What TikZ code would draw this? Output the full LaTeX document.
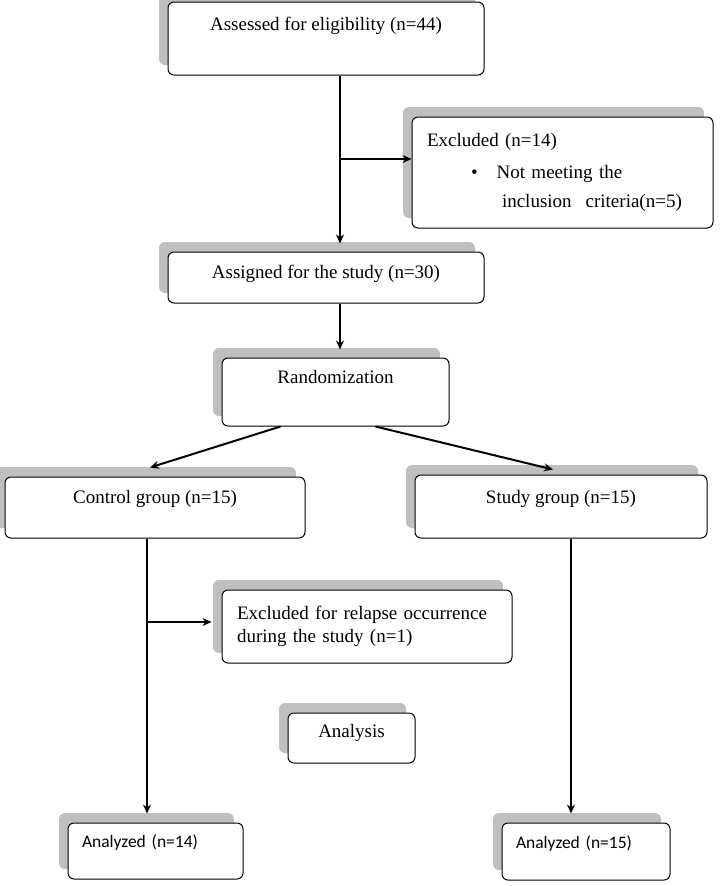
\documentclass[tikz,border=0pt]{standalone}
\usepackage{fontspec}
\setmainfont{Liberation Serif}
\newfontfamily\calibfont{Carlito}
\usepackage{tikz}
\usetikzlibrary{arrows.meta,positioning,calc,shadows}

\begin{document}
\begin{tikzpicture}[
  x=1pt, y=-1pt,
  flowbox/.style={draw, line width=1pt, rounded corners=6pt, fill=white, inner sep=0pt,
    drop shadow={shadow xshift=-9pt, shadow yshift=10pt, fill=gray!50, opacity=1},
    font=\fontsize{19}{23}\selectfont, text height=13pt},
  lift/.style={text depth=#1},
  notebox/.style={flowbox, align=left, inner xsep=15pt},
  resbox/.style={flowbox, align=left, inner xsep=14pt, font=\calibfont\fontsize{17.5}{21}\selectfont},
  link/.style={line width=2pt, -{Stealth[length=9pt,width=8pt]}},
]
\useasboundingbox (0,0) rectangle (720,886);

% --- Enrolment ---
\node[flowbox, minimum width=316pt, minimum height=73pt, lift=29pt] (assess) at (326,38.5) {Assessed for eligibility (n=44)};
\node[notebox, minimum width=301pt, minimum height=111pt, text width=271pt] (excl) at (562.5,172.5)
  {Excluded (n=14)\\[9pt]
   \hspace*{44pt}\textbullet\hspace{19pt}Not meeting the\\[6pt]
   \hspace*{75pt}inclusion\hspace{14pt}criteria(n=5)};
\node[flowbox, minimum width=316pt, minimum height=51pt, lift=11pt] (assign) at (326,277.5) {Assigned for the study (n=30)};
\node[flowbox, minimum width=227pt, minimum height=68pt, lift=30pt] (rand) at (335.5,392) {Randomization};

\coordinate (t1) at (340,0);
\coordinate (b1) at (340,159);
\draw[link] (assess.south -| t1) -- ([yshift=8pt]assign.north -| t1);
\draw[link] (b1) -- (excl.west |- b1);
\draw[link] (assign.south -| t1) -- ([yshift=8pt]rand.north -| t1);

% --- Allocation ---
\node[flowbox, minimum width=300pt, minimum height=61pt, lift=21pt] (ctrl) at (155,507.5) {Control group (n=15)};
\node[flowbox, minimum width=292pt, minimum height=63pt, lift=20pt] (study) at (561,506.5) {Study group (n=15)};
\draw[link] ($(rand.south)+(-55,0)$) -- ($(ctrl.north)+(-5,-9)$);
\draw[link] ($(rand.south)+(40,0)$) -- ($(study.north)+(-8,-5)$);

% --- Follow-up ---
\node[notebox, minimum width=290pt, minimum height=73pt, text width=260pt] (relapse) at (367,626.5)
  {Excluded for relapse occurrence\\during the study (n=1)};
\node[flowbox, minimum width=127pt, minimum height=50pt, lift=14pt] (anal) at (351.5,738) {Analysis};

% --- Analysis ---
\node[resbox, minimum width=175pt, minimum height=56pt, text width=147pt, lift=20pt] (res1) at (155.5,851) {Analyzed (n=14)};
\node[resbox, minimum width=168pt, minimum height=57pt, text width=140pt, lift=20pt] (res2) at (586,851.5) {Analyzed (n=15)};

\coordinate (t2) at (147,0);
\coordinate (b2) at (147,622);
\coordinate (t3) at (571,0);
\draw[link] (ctrl.south -| t2) -- ([yshift=9pt]res1.north -| t2);
\draw[link, shorten >=10pt] (b2) -- (relapse.west |- b2);
\draw[link] (study.south -| t3) -- ([yshift=9pt]res2.north -| t3);

\end{tikzpicture}
\end{document}
